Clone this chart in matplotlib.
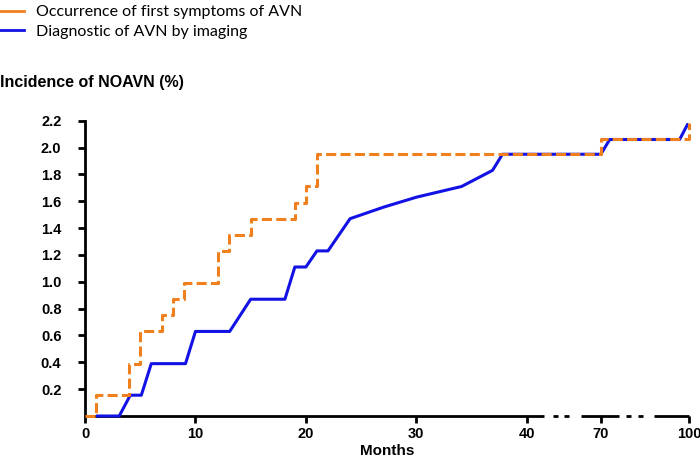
import matplotlib
matplotlib.use('Agg')
import matplotlib.pyplot as plt
from matplotlib.lines import Line2D
import numpy as np

# ---- data (months, incidence %) ----
symptom_months = [0, 1, 4, 5, 7, 8, 9, 12, 13, 15, 19, 20, 21, 70, 99.5, 100]
symptom_values = [0, 0.155, 0.39, 0.63, 0.755, 0.87, 0.99, 1.23, 1.35, 1.47, 1.59, 1.71, 1.95, 2.06, 2.06, 2.18]

imaging_months = [1, 3.1, 4.1, 5.1, 6.0, 9.1, 10.0, 13.1, 15.0, 18.1, 19.0, 20.0, 21.0, 22.0,
                  24.0, 27.0, 30.0, 34.1, 36.9, 37.8, 70.0, 73.0, 96.8, 99.7]
imaging_values = [0, 0, 0.155, 0.155, 0.39, 0.39, 0.63, 0.63, 0.87, 0.87, 1.11, 1.11, 1.23, 1.23,
                  1.47, 1.555, 1.63, 1.71, 1.83, 1.95, 1.95, 2.06, 2.06, 2.18]

x_ticks = [0, 10, 20, 30, 40, 70, 100]
y_ticks = [0.2, 0.4, 0.6, 0.8, 1.0, 1.2, 1.4, 1.6, 1.8, 2.0, 2.2]

ORANGE = '#F07F1E'
BLUE = '#1212E4'

# broken x axis: 0-40 linear, then 40-70 and 70-100 compressed
knots_m = [0, 40, 70, 100]
knots_p = [0, 40, 46.71, 54.69]


def fwd(x):
    return np.interp(x, knots_m, knots_p)


def inv(p):
    return np.interp(p, knots_p, knots_m)


plt.rcParams['font.family'] = ['Liberation Sans', 'DejaVu Sans']

fig = plt.figure(figsize=(7, 4.59), dpi=100)
ax = fig.add_axes([85 / 700, 43 / 459, 604 / 700, 295.3 / 459])
ax.set_xscale('function', functions=(fwd, inv))

ax.plot(imaging_months, imaging_values, color=BLUE, lw=2.2, solid_capstyle='butt', zorder=3, clip_on=False)
ax.step(symptom_months, symptom_values, where='post', color=ORANGE, lw=2.2,
        dashes=(3.3, 1.4), zorder=4, clip_on=False)

ax.set_xlim(0, 100)
ax.set_ylim(0, 2.2)
ax.set_xticks(x_ticks)
ax.set_xticklabels([str(t) for t in x_ticks])
ax.set_yticks(y_ticks)
ax.set_yticklabels([f'{t:.1f}' for t in y_ticks])

for s in ['top', 'right', 'bottom']:
    ax.spines[s].set_visible(False)
ax.spines['left'].set_linewidth(2)
ax.tick_params(axis='both', width=2, length=5, labelsize=10.5)
ax.tick_params(axis='y', pad=12)
ax.tick_params(axis='x', pad=3)
for lab in ax.get_xticklabels() + ax.get_yticklabels():
    lab.set_fontweight('bold')

# x axis line with break marks
axis_pieces = [(0, 46.9), (50.5, 52.6), (55.0, 57.0), (61.9, 76.1),
               (78.5, 80.2), (82.6, 84.3), (88.1, 100)]
for a, b in axis_pieces:
    ax.plot([a, b], [0, 0], color='black', lw=2, solid_capstyle='butt', clip_on=False, zorder=2)

ax.set_xlabel('Months', fontsize=11, fontweight='bold', labelpad=2)

fig.text(0.0, 1 - 82 / 459, 'Incidence of NOAVN (%)', fontsize=11.5, fontweight='bold',
         va='center', ha='left')

handles = [Line2D([], [], color=ORANGE, lw=2),
           Line2D([], [], color=BLUE, lw=2)]
fig.legend(handles, ['Occurrence of first symptoms of AVN', 'Diagnostic of AVN by imaging'],
           loc='upper left', bbox_to_anchor=(-0.012, 1.003), frameon=False,
           prop={'family': 'Lato', 'size': 11.5}, handlelength=1.6, handletextpad=0.75,
           labelspacing=0.35, borderaxespad=0)

fig.savefig('out.png', dpi=100)
